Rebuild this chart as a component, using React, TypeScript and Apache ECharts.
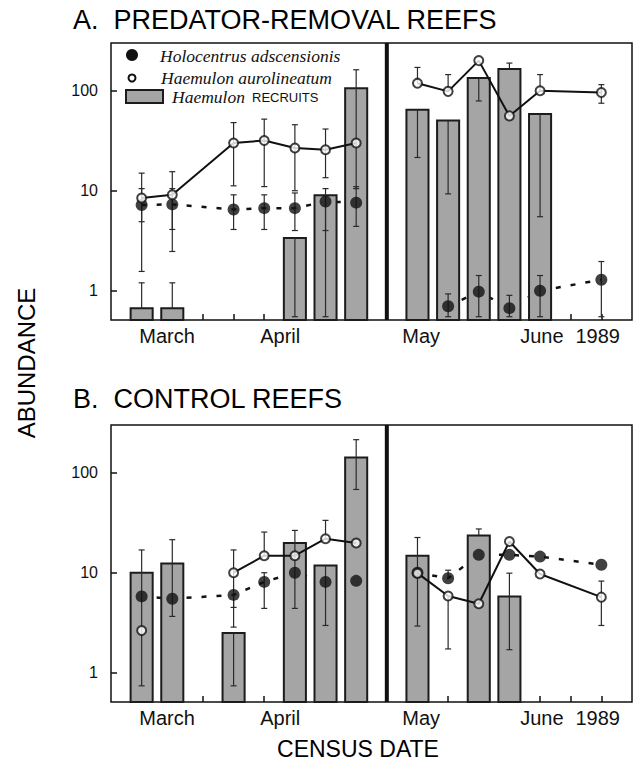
import React, { useEffect, useRef } from "react";
import * as echarts from "echarts";

// ---- axis / tick data ----
const monthLabels = ["March", "April", "May", "June", "1989"];
const monthPositions = [0.83, 4.52, 9.12, 13.06, 14.88];
const tickPositions = [0, 1, 2, 3, 4, 5, 6, 7, 9, 10, 11, 12, 13, 14, 15];
const yTickLabels = [1, 10, 100];
const DIVIDER_X = 8;

// ---- Panel A: predator-removal reefs (index 0..15, 8 = divider gap) ----
const aHolo = [7.2, 7.3, null, 6.5, 6.7, 6.7, 7.8, 7.6, null, null, 0.7, 0.98, 0.67, 1.0, null, 1.29];
const aHoloLo = [4.9, 4.1, null, 4.1, 4.1, 4.0, 4.0, 4.4, null, null, 0.55, 0.55, 0.55, 0.55, null, 0.55];
const aHoloHi = [10.5, 10.5, null, 9.1, 9.1, 9.5, 10.5, 11, null, null, 0.93, 1.42, 0.9, 1.42, null, 1.96];
const aHaem = [8.45, 9.1, null, 30, 31.8, 26.7, 25.7, 30, null, 119, 98.5, 200, 56, 100, null, 96];
const aHaemLo = [1.56, 2.47, null, 11.2, 11, 10, 13.5, null, null, null, null, null, null, null, null, 75];
const aHaemHi = [15, 15.5, null, 48, 52, 45.7, 41.4, null, null, 171, 145, null, null, 145, null, 115];
const aRecruits = [0.67, 0.67, null, null, null, 3.37, 9.0, 106, null, 64.6, 50.5, 134, 165, 58.5, null, null];
const aRecruitsLo = [null, null, null, null, null, 0.55, 0.55, 10.5, null, 21.5, 9.3, 79, null, 5.5, null, null];
const aRecruitsHi = [1.2, 1.2, null, null, null, null, null, 162, null, null, null, null, 189, null, null, null];
const aHoloSegments = [[0, 7], [9, 15]];
const aHaemSegments = [[0, 7], [9, 15]];

// ---- Panel B: control reefs ----
const bHolo = [5.8, 5.5, null, 6.0, 8.1, 10, 8.1, 8.3, null, 10, 8.8, 15.1, 15.1, 14.5, null, 12];
const bHoloLo = [null, null, null, 4.5, 4.4, null, null, null, null, null, null, null, null, null, null, null];
const bHoloHi = [null, null, null, null, 10, null, null, null, null, null, 10.6, null, null, null, null, null];
const bHaem = [2.64, null, null, 10, 14.8, 14.8, 21.9, 19.8, null, 9.9, 5.86, 4.9, 20.5, 9.7, null, 5.7];
const bHaemLo = [null, null, null, 2.86, null, null, null, null, null, null, 1.73, null, null, null, null, 2.97];
const bHaemHi = [null, null, null, 16.9, 25.5, null, 33.4, null, null, null, null, null, null, null, null, 8.25];
const bRecruits = [10, 12.4, null, 2.5, null, 19.8, 11.8, 142, null, 14.8, null, 23.6, 5.8, null, null, null];
const bRecruitsLo = [0.74, 3.66, null, 0.74, null, 4.4, 2.97, 68, null, 2.93, null, null, 1.7, null, null, null];
const bRecruitsHi = [16.9, 21.4, null, null, null, 26.5, null, 214, null, 22.5, null, 27.4, 9.9, null, null, null];
const bHoloSegments = [[0, 7], [9, 15]];
const bHaemSegments = [[0, 0], [3, 7], [9, 15]];

const X_MIN = -1;
const X_MAX = 16;
const Y_MIN = 0.51;
const Y_MAX = 300;

const SANS = '"Liberation Sans", Arial, Helvetica, sans-serif';
const SERIF = '"Liberation Serif", "Times New Roman", serif';
const INK = "#111";
const BAR_FILL = "#a5a5a5";

type N = number | null;

function lineData(vals: N[], segments: number[][]) {
  const out: any[] = [];
  segments.forEach((seg, k) => {
    if (k > 0) out.push([(segments[k - 1][1] + seg[0]) / 2, null]);
    for (let i = seg[0]; i <= seg[1]; i++) {
      if (vals[i] != null) out.push([i, vals[i]]);
    }
  });
  return out;
}

function pointData(vals: N[]) {
  const out: any[] = [];
  vals.forEach((v, i) => {
    if (v != null) out.push([i, v]);
  });
  return out;
}

function errData(vals: N[], lo: N[], hi: N[]) {
  const out: any[] = [];
  vals.forEach((v, i) => {
    if (v == null) return;
    if (lo[i] == null && hi[i] == null) return;
    out.push([i, v, lo[i] ?? v, hi[i] ?? v, lo[i] != null ? 1 : 0, hi[i] != null ? 1 : 0]);
  });
  return out;
}

function renderErr(params: any, api: any) {
  const x = api.value(0);
  const v = api.value(1);
  const lo = api.value(2);
  const hi = api.value(3);
  const hasLo = api.value(4);
  const hasHi = api.value(5);
  const pLo = api.coord([x, lo]);
  const pHi = api.coord([x, hi]);
  const pV = api.coord([x, v]);
  const cap = 3;
  const style = { stroke: "#2a2a2a", lineWidth: 1.2 };
  const children: any[] = [
    { type: "line", shape: { x1: pV[0], y1: pLo[1], x2: pV[0], y2: pHi[1] }, style },
  ];
  if (hasLo) children.push({ type: "line", shape: { x1: pLo[0] - cap, y1: pLo[1], x2: pLo[0] + cap, y2: pLo[1] }, style });
  if (hasHi) children.push({ type: "line", shape: { x1: pHi[0] - cap, y1: pHi[1], x2: pHi[0] + cap, y2: pHi[1] }, style });
  return { type: "group", children };
}

function renderBar(params: any, api: any) {
  const x = api.value(0);
  const v = api.value(1);
  const half = 0.36;
  const pTopL = api.coord([x - half, v]);
  const pBotR = api.coord([x + half, Y_MIN]);
  return {
    type: "rect",
    shape: { x: pTopL[0], y: pTopL[1], width: pBotR[0] - pTopL[0], height: pBotR[1] - pTopL[1] },
    style: { fill: BAR_FILL, stroke: "#1c1c1c", lineWidth: 2 },
  };
}

function renderDivider(params: any, api: any) {
  const x = api.value(0);
  const pTop = api.coord([x, Y_MAX]);
  const pBot = api.coord([x, Y_MIN]);
  return {
    type: "line",
    shape: { x1: pTop[0], y1: pTop[1], x2: pBot[0], y2: pBot[1] },
    style: { stroke: INK, lineWidth: 4 },
  };
}

function panelSeries(
  idx: number,
  holo: N[], holoLo: N[], holoHi: N[], holoSeg: number[][],
  haem: N[], haemLo: N[], haemHi: N[], haemSeg: number[][],
  rec: N[], recLo: N[], recHi: N[]
) {
  const ax = { xAxisIndex: idx, yAxisIndex: idx };
  return [
    {
      type: "line", ...ax, z: 1, data: lineData(holo, holoSeg), symbol: "none", connectNulls: false,
      lineStyle: { color: INK, width: 2.5, type: [5, 10] }, silent: true,
    },
    {
      type: "custom", ...ax, z: 2, data: pointData(rec), renderItem: renderBar, encode: { x: 0, y: 1 }, silent: true,
    },
    {
      type: "line", ...ax, z: 3, data: lineData(haem, haemSeg), symbol: "none", connectNulls: false,
      lineStyle: { color: INK, width: 2 }, silent: true,
    },
    {
      type: "custom", ...ax, z: 4, data: errData(rec, recLo, recHi), renderItem: renderErr, encode: { x: 0, y: 1 }, silent: true,
    },
    {
      type: "custom", ...ax, z: 4, data: errData(holo, holoLo, holoHi), renderItem: renderErr, encode: { x: 0, y: 1 }, silent: true,
    },
    {
      type: "custom", ...ax, z: 4, data: errData(haem, haemLo, haemHi), renderItem: renderErr, encode: { x: 0, y: 1 }, silent: true,
    },
    {
      type: "scatter", ...ax, z: 5, data: pointData(holo), symbol: "circle", symbolSize: 12,
      itemStyle: { color: INK }, silent: true,
    },
    {
      type: "scatter", ...ax, z: 6, data: pointData(haem), symbol: "circle", symbolSize: 9,
      itemStyle: { color: "#fff", borderColor: INK, borderWidth: 2 }, silent: true,
    },
    {
      type: "custom", ...ax, z: 7, data: [[DIVIDER_X, 1]], renderItem: renderDivider, encode: { x: 0, y: 1 }, silent: true,
    },
  ];
}

function makeXAxis(gridIndex: number) {
  return {
    type: "value", gridIndex, min: X_MIN, max: X_MAX, position: "bottom",
    axisLine: { show: false, onZero: false },
    splitLine: { show: false },
    axisTick: { show: true, inside: true, length: 6, customValues: tickPositions, lineStyle: { color: INK, width: 1.5 } },
    axisLabel: {
      show: true, customValues: monthPositions, margin: 6, fontSize: 20, color: INK, fontFamily: SANS,
      formatter: (v: number) => {
        const k = monthPositions.findIndex((p) => Math.abs(p - v) < 0.01);
        return k >= 0 ? monthLabels[k] : "";
      },
    },
  };
}

function makeYAxis(gridIndex: number) {
  return {
    type: "log", logBase: 10, gridIndex, min: Y_MIN, max: Y_MAX, position: "left",
    axisLine: { show: false, onZero: false },
    splitLine: { show: false },
    axisTick: { show: true, inside: true, length: 6, lineStyle: { color: INK, width: 1.5 } },
    axisLabel: {
      show: true, margin: 13, fontSize: 16, color: INK, fontFamily: SANS,
      showMinLabel: false, showMaxLabel: false,
      formatter: (v: number) => {
        const hit = yTickLabels.find((t) => Math.abs(t - v) / t < 0.01);
        return hit != null ? String(hit) : "";
      },
    },
  };
}

export default function App() {
  const ref = useRef<HTMLDivElement>(null);
  useEffect(() => {
    if (!ref.current) return;
    const chart = echarts.init(ref.current, null, { renderer: "svg" });
    const legendFont = `italic 17.5px ${SERIF}`;
    const option: any = {
      animation: false,
      backgroundColor: "#fff",
      grid: [
        { left: 111, top: 43, width: 521, height: 277, show: true, borderColor: INK, borderWidth: 1.5, backgroundColor: "transparent" },
        { left: 111, top: 425, width: 521, height: 277, show: true, borderColor: INK, borderWidth: 1.5, backgroundColor: "transparent" },
      ],
      xAxis: [makeXAxis(0), makeXAxis(1)],
      yAxis: [makeYAxis(0), makeYAxis(1)],
      series: [
        ...panelSeries(0, aHolo, aHoloLo, aHoloHi, aHoloSegments, aHaem, aHaemLo, aHaemHi, aHaemSegments, aRecruits, aRecruitsLo, aRecruitsHi),
        ...panelSeries(1, bHolo, bHoloLo, bHoloHi, bHoloSegments, bHaem, bHaemLo, bHaemHi, bHaemSegments, bRecruits, bRecruitsLo, bRecruitsHi),
      ],
      graphic: [
        { type: "text", x: 73, y: 20, style: { text: "A.  PREDATOR-REMOVAL REEFS", font: `27px ${SANS}`, fill: "#000", align: "left", verticalAlign: "middle" } },
        { type: "text", x: 73, y: 399, style: { text: "B.  CONTROL REEFS", font: `27px ${SANS}`, fill: "#000", align: "left", verticalAlign: "middle" } },
        { type: "text", x: 26, y: 363, rotation: Math.PI / 2, style: { text: "ABUNDANCE", font: `24px ${SANS}`, fill: "#000", align: "center", verticalAlign: "middle" } },
        { type: "text", x: 358, y: 749, style: { text: "CENSUS DATE", font: `23px ${SANS}`, fill: "#000", align: "center", verticalAlign: "middle" } },
        // legend
        { type: "circle", shape: { cx: 132, cy: 55, r: 6 }, style: { fill: INK } },
        { type: "text", x: 160, y: 56, style: { text: "Holocentrus adscensionis", font: legendFont, fill: INK, align: "left", verticalAlign: "middle" } },
        { type: "circle", shape: { cx: 132, cy: 78, r: 3.5 }, style: { fill: "#fff", stroke: INK, lineWidth: 2 } },
        { type: "text", x: 161, y: 78, style: { text: "Haemulon aurolineatum", font: legendFont, fill: INK, align: "left", verticalAlign: "middle" } },
        { type: "rect", shape: { x: 126, y: 90, width: 37, height: 13 }, style: { fill: BAR_FILL, stroke: "#1c1c1c", lineWidth: 2 } },
        { type: "text", x: 172, y: 97, style: { text: "Haemulon", font: legendFont, fill: INK, align: "left", verticalAlign: "middle" } },
        { type: "text", x: 252, y: 97, style: { text: "RECRUITS", font: `13px ${SANS}`, fill: INK, align: "left", verticalAlign: "middle" } },
      ],
    };
    chart.setOption(option);
    return () => chart.dispose();
  }, []);
  return <div ref={ref} style={{ position: "absolute", left: 0, top: 0, width: 640, height: 768 }} />;
}
